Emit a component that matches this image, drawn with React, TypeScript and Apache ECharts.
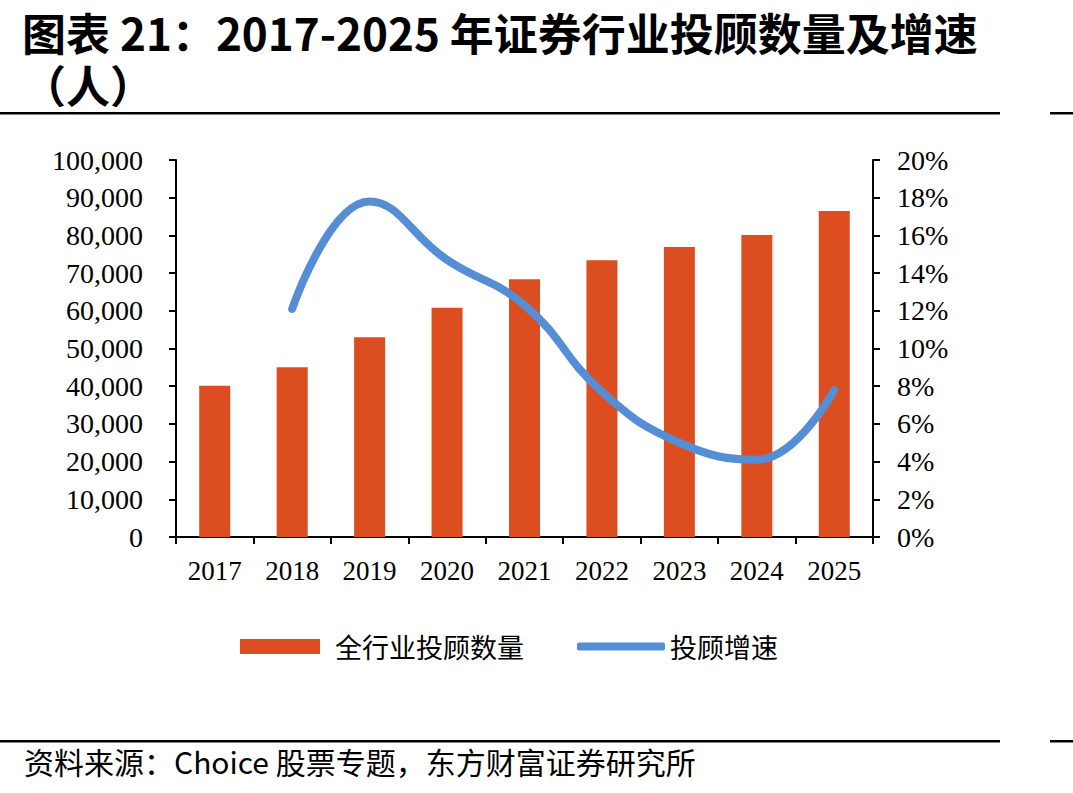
import React, { useEffect, useRef } from "react";
import * as echarts from "echarts";

// Years on the category axis
const years = ["2017", "2018", "2019", "2020", "2021", "2022", "2023", "2024", "2025"];
// Total number of investment advisers in the securities industry (people)
const advisers = [40100, 45000, 53000, 60800, 68400, 73400, 76900, 80100, 86500];
// Year-on-year growth of advisers (%); no growth figure for the first year
const growth: (number | null)[] = [null, 12.1, 17.8, 14.7, 12.3, 7.7, 5.0, 4.1, 7.8];

const BAR_COLOR = "#DC4E1F";
const LINE_COLOR = "#558ED5";
const SERIF = '"Liberation Serif", "Times New Roman", serif';
const CJK = '"Noto Sans CJK SC", sans-serif';

export default function App() {
  const ref = useRef<HTMLDivElement>(null);

  useEffect(() => {
    if (!ref.current) return;
    const chart = echarts.init(ref.current, null, { renderer: "svg" });
    const axisLine = { show: true, lineStyle: { color: "#000", width: 2 } };
    const axisTick = { show: true, inside: false, length: 7, lineStyle: { color: "#000", width: 2 } };

    chart.setOption({
      animation: false,
      backgroundColor: "#fff",
      grid: { left: 176, right: 200, top: 160, bottom: 256, containLabel: false },
      xAxis: {
        type: "category",
        data: years,
        boundaryGap: true,
        axisLine,
        axisTick: { ...axisTick, alignWithLabel: false },
        axisLabel: { color: "#000", fontFamily: SERIF, fontSize: 27, margin: 20 },
        splitLine: { show: false },
      },
      yAxis: [
        {
          type: "value",
          min: 0,
          max: 100000,
          interval: 10000,
          axisLine,
          axisTick,
          splitLine: { show: false },
          axisLabel: {
            color: "#000",
            fontFamily: SERIF,
            fontSize: 28,
            margin: 33,
            formatter: (v: number) => v.toLocaleString("en-US"),
          },
        },
        {
          type: "value",
          min: 0,
          max: 20,
          interval: 2,
          position: "right",
          axisLine,
          axisTick,
          splitLine: { show: false },
          axisLabel: {
            color: "#000",
            fontFamily: SERIF,
            fontSize: 28,
            margin: 24,
            formatter: "{value}%",
          },
        },
      ],
      legend: [
        {
          data: ["全行业投顾数量"],
          left: 235,
          top: 628,
          icon: "rect",
          itemWidth: 80,
          itemHeight: 15,
          itemGap: 0,
          textStyle: { color: "#000", fontFamily: CJK, fontSize: 27, padding: [0, 0, 0, 10] },
        },
        {
          data: [{ name: "投顾增速", icon: "roundRect" }],
          left: 572,
          top: 628,
          itemWidth: 88,
          itemHeight: 8,
          itemStyle: { color: LINE_COLOR, borderWidth: 0 },
          textStyle: { color: "#000", fontFamily: CJK, fontSize: 27, padding: [0, 0, 0, 0] },
        },
      ],
      series: [
        {
          name: "全行业投顾数量",
          type: "bar",
          data: advisers,
          barWidth: 31,
          itemStyle: { color: BAR_COLOR },
          yAxisIndex: 0,
        },
        {
          name: "投顾增速",
          type: "line",
          data: growth,
          yAxisIndex: 1,
          smooth: 0.45,
          symbol: "none",
          connectNulls: false,
          lineStyle: { color: LINE_COLOR, width: 8, cap: "round", join: "round" },
          itemStyle: { color: LINE_COLOR },
        },
      ],
      graphic: [
        {
          type: "text",
          left: 22,
          top: 6,
          style: {
            text: "图表 21：2017-2025 年证券行业投顾数量及增速\n（人）",
            font: `bold 44px ${CJK}`,
            lineHeight: 52,
            fill: "#000",
          },
        },
        { type: "rect", shape: { x: 0, y: 112, width: 1000, height: 2.5 }, style: { fill: "#000" } },
        { type: "rect", shape: { x: 1050, y: 112, width: 23, height: 2.5 }, style: { fill: "#000" } },
        { type: "rect", shape: { x: 0, y: 740, width: 1000, height: 2.5 }, style: { fill: "#000" } },
        { type: "rect", shape: { x: 1050, y: 740, width: 23, height: 2.5 }, style: { fill: "#000" } },
        {
          type: "text",
          left: 24,
          top: 746,
          style: {
            text: "资料来源：Choice 股票专题，东方财富证券研究所",
            font: `30px ${CJK}`,
            fill: "#000",
          },
        },
      ],
    });

    return () => chart.dispose();
  }, []);

  return (
    <div
      ref={ref}
      style={{ position: "fixed", left: 0, top: 0, width: 1073, height: 793, background: "#fff" }}
    />
  );
}
